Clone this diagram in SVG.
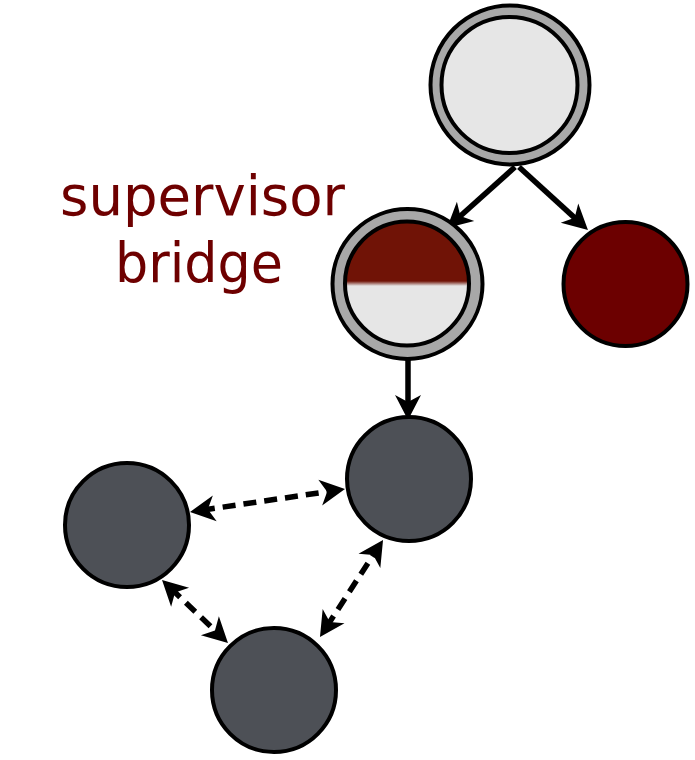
<svg xmlns="http://www.w3.org/2000/svg" width="695" height="760" viewBox="0 0 695 760">
  <defs>
    <linearGradient id="split" x1="0" y1="0" x2="0" y2="1">
      <stop offset="0" stop-color="#701306"/>
      <stop offset="0.48" stop-color="#701306"/>
      <stop offset="0.52" stop-color="#e6e6e6"/>
      <stop offset="1" stop-color="#e6e6e6"/>
    </linearGradient>
    <marker id="ah" markerUnits="userSpaceOnUse" markerWidth="40" markerHeight="40" viewBox="-20 -20 40 40" refX="0" refY="0" orient="auto-start-reverse" overflow="visible">
      <path d="M12,0 L-13,-13 L-6,0 L-13,13 Z" fill="#000"/>
    </marker>
    <style>
      .node { stroke: #000; stroke-width: 4; }
      .ring { fill: #a8a8a8; }
      .light { fill: #e6e6e6; }
      .red { fill: #6c0000; }
      .dark { fill: #4d5056; }
      .edge { stroke: #000; stroke-width: 5.5; fill: none; }
      .solid { marker-end: url(#ah); }
      .dashed { stroke-dasharray: 13 8; marker-start: url(#ah); marker-end: url(#ah); }
      .label { font-family: "DejaVu Sans", "Liberation Sans", sans-serif; font-size: 56px; fill: #6e0000; text-anchor: middle; }
    </style>
  </defs>

  <g id="connectors">
    <line class="edge solid" x1="515" y1="167" x2="455.9" y2="220"/>
    <line class="edge solid" x1="519" y1="167" x2="579.1" y2="221.9"/>
    <line class="edge solid" x1="408" y1="350" x2="408" y2="408"/>
    <line class="edge dashed" x1="201.9" y1="510.2" x2="333.1" y2="490.8"/>
    <line class="edge dashed" x1="170.7" y1="588.3" x2="219.3" y2="634.7"/>
    <line class="edge dashed" x1="326.5" y1="627" x2="376.5" y2="550"/>
  </g>

  <g id="root">
    <circle class="node ring" cx="510" cy="85" r="79.5"/>
    <circle class="node light" cx="509.5" cy="85" r="68"/>
  </g>

  <g id="bridge">
    <circle class="node ring" cx="407.5" cy="284" r="75"/>
    <circle class="node" fill="url(#split)" cx="407" cy="283.5" r="62"/>
  </g>

  <g id="red-node">
    <circle class="node red" cx="625.5" cy="284" r="62"/>
  </g>

  <g id="gray-right">
    <circle class="node dark" cx="409" cy="479" r="62"/>
  </g>

  <g id="gray-left">
    <circle class="node dark" cx="127" cy="525" r="62"/>
  </g>

  <g id="gray-bottom">
    <circle class="node dark" cx="274" cy="690" r="62"/>
  </g>

  <g id="label">
    <text class="label" x="202.5" y="215" textLength="285" lengthAdjust="spacingAndGlyphs">supervisor</text>
    <text class="label" x="199" y="282" textLength="168" lengthAdjust="spacingAndGlyphs">bridge</text>
  </g>
</svg>
